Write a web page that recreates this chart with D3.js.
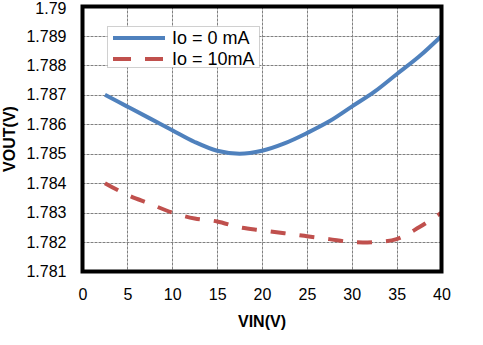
<!DOCTYPE html>
<html>
<head>
<meta charset="utf-8">
<script src="https://cdn.jsdelivr.net/npm/d3@7"></script>
<style>
  html, body { margin: 0; padding: 0; background: #fff; }
  svg { display: block; font-family: Arial, "Liberation Sans", sans-serif; }
</style>
</head>
<body>
<svg width="483" height="345"></svg>
<script>
// data
const vin = [2.5, 5, 7.5, 10, 12.5, 15, 17.5, 20, 22.5, 25, 27.5, 30, 32.5, 35, 37.5, 40];
const vout0mA = [1.787, 1.7866, 1.7862, 1.7858, 1.7854, 1.7851, 1.785, 1.7851, 1.78535, 1.7857, 1.7861, 1.7866, 1.7871, 1.7877, 1.7883, 1.789];
const vout10mA = [1.784, 1.7836, 1.7833, 1.783, 1.7828, 1.7827, 1.7825, 1.7824, 1.7823, 1.7822, 1.7821, 1.782, 1.782, 1.7821, 1.7825, 1.783];
const xTicks = [0, 5, 10, 15, 20, 25, 30, 35, 40];
const yTicks = [1.781, 1.782, 1.783, 1.784, 1.785, 1.786, 1.787, 1.788, 1.789, 1.79];
const seriesNames = ["Io = 0 mA", "Io = 10mA"];

const layout = { left: 82.5, right: 441.5, top: 6.5, bottom: 271.5 };

const svg = d3.select("svg");

const x = d3.scaleLinear().domain([0, 40]).range([layout.left, layout.right]);
const y = d3.scaleLinear().domain([1.781, 1.79]).range([layout.bottom, layout.top]);

// grid
const grid = svg.append("g").attr("stroke", "#808080").attr("stroke-width", 1).attr("stroke-dasharray", "3,1");
grid.selectAll("line.gx")
  .data(xTicks.slice(1, -1))
  .join("line")
  .attr("x1", d => Math.round(x(d)) + 0.5)
  .attr("x2", d => Math.round(x(d)) + 0.5)
  .attr("y1", layout.top)
  .attr("y2", layout.bottom);
grid.selectAll("line.gy")
  .data(yTicks.slice(1, -1))
  .join("line")
  .attr("y1", d => Math.round(y(d)) + 0.5)
  .attr("y2", d => Math.round(y(d)) + 0.5)
  .attr("x1", layout.left)
  .attr("x2", layout.right);

// axes (labels only)
const xAxis = svg.append("g")
  .attr("transform", `translate(0, ${layout.bottom})`)
  .call(d3.axisBottom(x).tickValues(xTicks).tickSize(0).tickPadding(17).tickFormat(d3.format("d")));
const yAxis = svg.append("g")
  .attr("transform", `translate(${layout.left}, 0)`)
  .call(d3.axisLeft(y).tickValues(yTicks).tickSize(0).tickPadding(16).tickFormat(d => +d.toFixed(3)));
[xAxis, yAxis].forEach(a => {
  a.select(".domain").remove();
  a.selectAll("text").attr("font-size", 16).attr("font-family", "Arial, 'Liberation Sans', sans-serif").attr("fill", "#000");
});
// keep the top label inside the window
yAxis.selectAll(".tick").filter(d => d === 1.79).select("text").attr("dy", "0.42em");

// lines
const line = d3.line().curve(d3.curveCatmullRom).x(d => x(d[0])).y(d => y(d[1]));
svg.append("path")
  .datum(vin.map((v, i) => [v, vout0mA[i]]))
  .attr("fill", "none")
  .attr("stroke", "#4F81BD")
  .attr("stroke-width", 4)
  .attr("d", line);
svg.append("path")
  .datum(vin.map((v, i) => [v, vout10mA[i]]))
  .attr("fill", "none")
  .attr("stroke", "#C0504D")
  .attr("stroke-width", 4)
  .attr("stroke-dasharray", "15,14")
  .attr("d", line);

// plot border
svg.append("rect")
  .attr("x", layout.left)
  .attr("y", layout.top)
  .attr("width", layout.right - layout.left)
  .attr("height", layout.bottom - layout.top)
  .attr("fill", "none")
  .attr("stroke", "#000")
  .attr("stroke-width", 4);

// legend
const legend = svg.append("g");
legend.append("rect")
  .attr("x", 107.5).attr("y", 26.5).attr("width", 152).attr("height", 41)
  .attr("fill", "#fff").attr("stroke", "#a0a0a0").attr("stroke-dasharray", "1,1");
const legendStyles = [
  { color: "#4F81BD", dash: null },
  { color: "#C0504D", dash: "18,14" }
];
seriesNames.forEach((name, i) => {
  const ly = 38 + i * 21;
  legend.append("line")
    .attr("x1", 113).attr("x2", 165).attr("y1", ly).attr("y2", ly)
    .attr("stroke", legendStyles[i].color).attr("stroke-width", 4)
    .attr("stroke-dasharray", legendStyles[i].dash);
  legend.append("text")
    .attr("x", 172).attr("y", ly + 6)
    .attr("font-size", 18)
    .text(name);
});

// axis titles
svg.append("text")
  .attr("x", (layout.left + layout.right) / 2)
  .attr("y", 327)
  .attr("text-anchor", "middle")
  .attr("font-size", 16)
  .attr("font-weight", "bold")
  .text("VIN(V)");
svg.append("text")
  .attr("transform", `translate(15, ${(layout.top + layout.bottom) / 2}) rotate(-90)`)
  .attr("text-anchor", "middle")
  .attr("font-size", 16)
  .attr("font-weight", "bold")
  .text("VOUT(V)");
</script>
</body>
</html>
